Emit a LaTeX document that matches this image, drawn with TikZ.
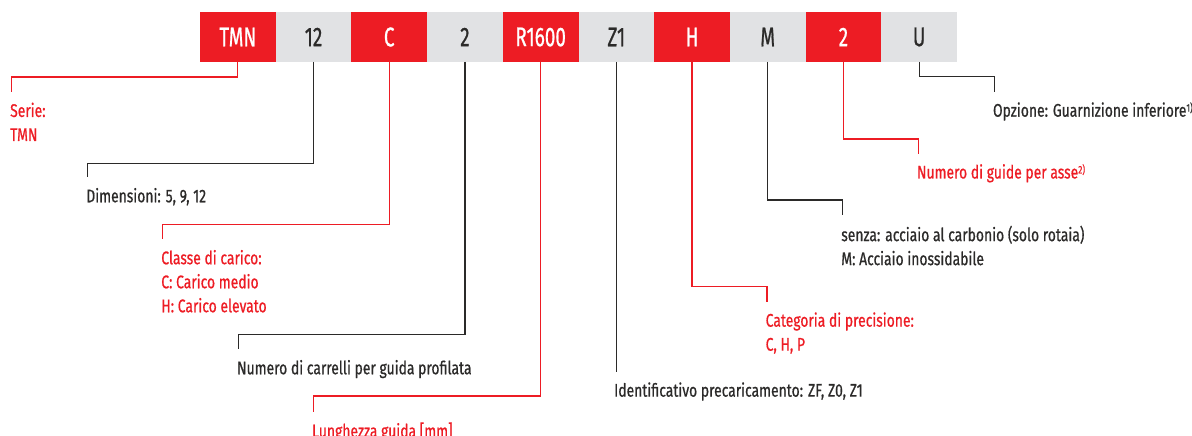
\documentclass[tikz,border=0pt]{standalone}
\usepackage{fontspec}
\setmainfont{Fira Sans}[FakeStretch=0.76,FakeBold=0.7]
\newfontfamily\barfont{Fira Sans}[FakeStretch=0.7,FakeBold=0.7]
\usepackage{xcolor}
\usepackage{tikz}
\usetikzlibrary{positioning}

\definecolor{tmred}{HTML}{ED1C24}
\definecolor{tmgrey}{HTML}{E1E2E4}
\definecolor{tmdark}{HTML}{2B2A29}
\newcommand{\supref}[1]{\raisebox{5pt}{\fontsize{11}{11}\selectfont #1}}

\begin{document}
\begin{tikzpicture}[x=1pt,y=-1pt,
  code/.style={minimum width=75.7pt,minimum height=50pt,inner sep=0pt,outer sep=0pt,font=\barfont\fontsize{27}{30}\selectfont},
  rcode/.style={code,fill=tmred,text=white},
  gcode/.style={code,fill=tmgrey,text=tmdark},
  lbl/.style={anchor=north west,align=left,inner xsep=0pt,inner ysep=10.5pt,font=\fontsize{18.3}{24}\selectfont},
  rlbl/.style={lbl,text=tmred},
  dlbl/.style={lbl,text=tmdark},
  rln/.style={draw=tmred,line width=1.2pt},
  dln/.style={draw=tmdark,line width=1.2pt}
]
\useasboundingbox (0,0) rectangle (1192,436);
% code bar
\node[rcode] (ser) at (237.85,37) {TMN};
\node[gcode,right=0pt of ser] (siz) {12};
\node[rcode,right=0pt of siz] (cls) {C};
\node[gcode,right=0pt of cls] (nca) {2};
\node[rcode,right=0pt of nca] (len) {R1600};
\node[gcode,right=0pt of len] (pre) {Z1};
\node[rcode,right=0pt of pre] (acc) {H};
\node[gcode,right=0pt of acc] (mat) {M};
\node[rcode,right=0pt of mat] (ngu) {2};
\node[gcode,right=0pt of ngu] (opt) {U};
% knees
\coordinate (kser) at (11.5,77);
\coordinate (ksiz) at (87.6,163.3);
\coordinate (kcls) at (162.6,224.3);
\coordinate (knca) at (238.4,334.3);
\coordinate (klen) at (313.4,396);
\coordinate (kacc) at (767,286.3);
\coordinate (kmat) at (842.6,200);
\coordinate (kngu) at (918.3,139);
\coordinate (kopt) at (994.3,76.7);
% labels
\node[rlbl] (lser) at (10,92) {Serie:\\TMN};
\node[dlbl] (lsiz) at (86.1,177.3) {Dimensioni: 5, 9, 12};
\node[rlbl] (lcls) at (161.1,239.3) {Classe di carico:\\C: Carico medio\\H: Carico elevato};
\node[dlbl] (lnca) at (236.9,349.3) {Numero di carrelli per guida profilata};
\node[rlbl] (llen) at (311.9,411.7) {Lunghezza guida [mm]};
\node[dlbl] (lpre) at (614,371.7) {Identificativo precaricamento: ZF, Z0, Z1};
\node[rlbl] (lacc) at (765.5,301.7) {Categoria di precisione:\\C, H, P};
\node[dlbl] (lmat) at (841.1,215) {senza: acciaio al carbonio (solo rotaia)\\M: Acciaio inossidabile};
\node[rlbl] (lngu) at (916.8,153.5) {Numero di guide per asse\supref{2)}};
\node[dlbl] (lopt) at (992.8,91.7) {Opzione: Guarnizione inferiore\supref{1)}};
% connectors
\draw[rln] (ser.south) |- (kser) -- (kser |- lser.north);
\draw[dln] (siz.south) |- (ksiz) -- (ksiz |- lsiz.north);
\draw[rln] (cls.south) |- (kcls) -- (kcls |- lcls.north);
\draw[dln] (nca.south) |- (knca) -- (knca |- lnca.north);
\draw[rln] (len.south) |- (klen) -- (klen |- llen.north);
\draw[dln] (pre.south) -- (pre.south |- lpre.north);
\draw[rln] (acc.south) |- (kacc) -- (kacc |- lacc.north);
\draw[dln] (mat.south) |- (kmat) -- (kmat |- lmat.north);
\draw[rln] (ngu.south) |- (kngu) -- (kngu |- lngu.north);
\draw[dln] (opt.south) |- (kopt) -- (kopt |- lopt.north);
\end{tikzpicture}
\end{document}
